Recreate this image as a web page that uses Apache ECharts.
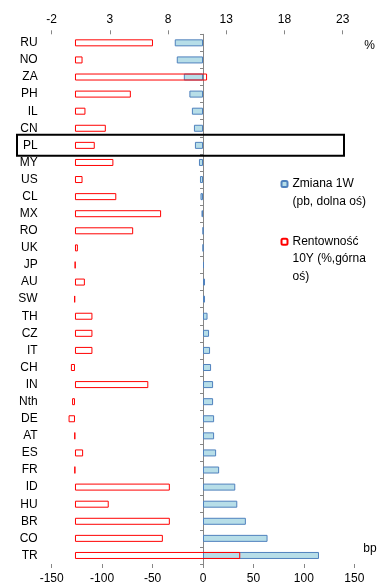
<!DOCTYPE html>
<html>
<head>
<meta charset="utf-8">
<script src="https://cdn.jsdelivr.net/npm/echarts@6/dist/echarts.min.js"></script>
<style>
  html, body { margin: 0; padding: 0; background: #fff; }
  #chart { width: 384px; height: 588px; }
</style>
</head>
<body>
<div id="chart"></div>
<script>
const COUNTRIES = ['RU', 'NO', 'ZA', 'PH', 'IL', 'CN', 'PL', 'MY', 'US', 'CL', 'MX', 'RO', 'UK', 'JP', 'AU', 'SW',
  'TH', 'CZ', 'IT', 'CH', 'IN', 'Nth', 'DE', 'AT', 'ES', 'FR', 'ID', 'HU', 'BR', 'CO', 'TR']
// weekly change in bp (bottom axis)
const CHANGE_1W = [-28, -26, -19, -13.5, -11, -9, -8, -4, -3, -2.5, -1.5, 0, 0, 1, 2, 2,
  4.5, 6, 7, 8, 10, 10, 11, 11, 13, 16, 32, 34, 42.5, 64, 115]
// 10Y yield in % (top axis)
const YIELD_10Y = [6.7, 0.65, 11.35, 4.8, 0.9, 2.65, 1.7, 3.3, 0.65, 3.55, 7.4, 5.0, 0.25, 0.03, 0.85, -0.05,
  1.5, 1.5, 1.5, -0.35, 6.3, -0.25, -0.55, -0.03, 0.7, -0.02, 8.15, 2.9, 8.15, 7.55, 14.2]
const TOP_TICKS = [-2, 3, 8, 13, 18, 23]
const HIGHLIGHT = 'PL'

const FONT = "'Liberation Sans', Arial, sans-serif"
const AXIS_GREY = '#868686'
const BLUE_FILL = '#b7dee8'
const BLUE_EDGE = '#4f81bd'
const RED = '#ff0000'

// blank lines up front keep the icon level with the first text line
const LEGEND_TEXT = {
  'Zmiana 1W': '\nZmiana 1W\n(pb, dolna oś)',
  'Rentowność 10Y': '\n\nRentowność\n10Y (%,górna\noś)',
}

const chart = echarts.init(document.getElementById('chart'), null, { renderer: 'canvas' })

const option = {
  animation: false,
  backgroundColor: '#fff',
  textStyle: { fontFamily: FONT },
  grid: { left: 51.7, right: 29.7, top: 34.3, bottom: 24, outerBoundsMode: 'none', containLabel: false },
  legend: {
    orient: 'vertical',
    left: 280.5,
    top: 158,
    padding: 0,
    itemWidth: 6,
    itemHeight: 6,
    itemGap: -12,
    selectedMode: false,
    textStyle: { fontSize: 12, color: '#000', lineHeight: 17.4, fontFamily: FONT },
    formatter: name => LEGEND_TEXT[name],
    data: ['Zmiana 1W', 'Rentowność 10Y'],
  },
  xAxis: [
    {
      type: 'value',
      position: 'top',
      min: -2,
      max: 24,
      name: '%',
      nameLocation: 'end',
      nameGap: 10,
      nameTextStyle: { fontSize: 12, color: '#000', verticalAlign: 'top', lineHeight: 22 },
      axisLine: { onZero: false, lineStyle: { color: AXIS_GREY } },
      axisTick: { show: true, length: 4, customValues: TOP_TICKS, lineStyle: { color: AXIS_GREY } },
      axisLabel: { fontSize: 12, color: '#000', margin: 9, customValues: TOP_TICKS },
      splitLine: { show: false },
    },
    {
      type: 'value',
      position: 'bottom',
      min: -150,
      max: 150,
      interval: 50,
      name: 'bp',
      nameLocation: 'end',
      nameGap: 9,
      nameTextStyle: { fontSize: 12, color: '#000', verticalAlign: 'bottom', lineHeight: 30 },
      axisLine: { onZero: false, lineStyle: { color: AXIS_GREY } },
      axisTick: { show: true, length: 4, lineStyle: { color: AXIS_GREY } },
      axisLabel: { fontSize: 12, color: '#000', margin: 9 },
      splitLine: { show: false },
    },
  ],
  yAxis: {
    type: 'category',
    inverse: true,
    data: COUNTRIES,
    axisLine: { onZero: true, onZeroAxisIndex: 1, lineStyle: { color: AXIS_GREY } },
    axisTick: { show: true, length: 3, lineStyle: { color: AXIS_GREY } },
    axisLabel: { fontSize: 12, color: '#000', margin: 14, interval: 0 },
  },
  series: [
    {
      name: 'Zmiana 1W',
      type: 'bar',
      xAxisIndex: 1,
      data: CHANGE_1W,
      barWidth: 7,
      barGap: '-100%',
      itemStyle: { color: BLUE_FILL, borderColor: BLUE_EDGE, borderWidth: 1 },
      z: 2,
    },
    {
      name: 'Rentowność 10Y',
      type: 'bar',
      xAxisIndex: 0,
      data: YIELD_10Y,
      barWidth: 7,
      barGap: '-100%',
      itemStyle: { color: 'rgba(255,255,255,0)', borderColor: RED, borderWidth: 1 },
      z: 3,
    },
  ],
}

chart.setOption(option)

// frame around the highlighted country row
const rowY = chart.convertToPixel({ yAxisIndex: 0 }, HIGHLIGHT)
chart.setOption({
  graphic: [{
    type: 'rect',
    shape: { x: 17, y: rowY - 10.5, width: 327, height: 21 },
    style: { fill: 'none', stroke: '#000', lineWidth: 2 },
    z: 10,
  }],
})
</script>
</body>
</html>
